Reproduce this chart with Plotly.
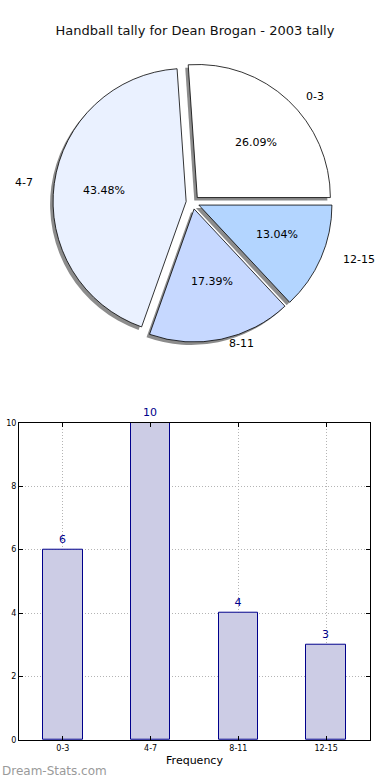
import math
import plotly.graph_objects as go

categories = ["0-3", "4-7", "8-11", "12-15"]
counts = [6, 10, 4, 3]
pie_colors = ["#FFFFFF", "#EAF1FF", "#C6D8FF", "#B3D5FF"]
title_text = "Handball tally for Dean Brogan - 2003 tally"

W, H = 390, 780
ML, MR, MT, MB = 19, 20, 0, 40
PW, PH = W - ML - MR, H - MT - MB

def px_x(p):
    return (p - ML) / PW

def px_y(p):
    return (H - MB - p) / PH

FONT = "DejaVu Sans"
pull = 0.05
total = sum(counts)
# first slice starts at 3 o'clock and runs counter-clockwise (matplotlib style)
rotation = 90 - 360 * counts[0] / total
pie_dom_y = [px_y(340), px_y(59)]
main_dom_x = [0.0, 0.99]
shadow_dom_x = [0.0, 0.973]
shadow_dom_y = [pie_dom_y[0] - 3 / PH, pie_dom_y[1] - 3 / PH]

fig = go.Figure()

# shadow
fig.add_trace(go.Pie(
    labels=categories, values=counts, sort=False, direction="counterclockwise",
    rotation=rotation, pull=pull, marker=dict(colors=["#8c8c8c"] * 4, line=dict(width=0)),
    textinfo="none", hoverinfo="skip", showlegend=False,
    domain=dict(x=shadow_dom_x, y=shadow_dom_y),
))
# main pie
fig.add_trace(go.Pie(
    labels=categories, values=counts, sort=False, direction="counterclockwise",
    rotation=rotation, pull=pull,
    marker=dict(colors=pie_colors, line=dict(color="black", width=0.8)),
    textinfo="none", hoverinfo="label+percent",
    showlegend=False, domain=dict(x=main_dom_x, y=pie_dom_y),
))

# labels (outside) and percentages (inside) placed at slice mid-angles
cx, cy = 194, 199
rx, ry = 146, 132
cum = 0
for lab, v in zip(categories, counts):
    mid = (cum + v / 2) / total * 2 * math.pi
    cum += v
    c, s = math.cos(mid), math.sin(mid)
    fig.add_annotation(x=px_x(cx + 1.1 * rx * c), y=px_y(cy - 1.1 * ry * s),
                       xref="paper", yref="paper", text=lab, showarrow=False,
                       xanchor="left" if c > 0 else "right", yanchor="middle",
                       font=dict(family=FONT, size=11, color="black"))
    fig.add_annotation(x=px_x(cx + 0.62 * rx * c), y=px_y(cy - 0.62 * ry * s),
                       xref="paper", yref="paper",
                       text=f"{100 * v / total:.2f}%", showarrow=False,
                       xanchor="center", yanchor="middle",
                       font=dict(family=FONT, size=11, color="black"))

# bar chart
fig.add_trace(go.Bar(
    x=categories, y=counts, width=0.45,
    marker=dict(color="#CCCCE5", line=dict(color="#00008B", width=1)),
    text=[str(c) for c in counts], textposition="outside", cliponaxis=False,
    textfont=dict(family=FONT, size=11, color="#00008B"),
    showlegend=False, hoverinfo="skip",
))

grid = dict(showgrid=True, gridcolor="#b4b4b4", griddash="1px,2px", gridwidth=1)
fig.update_layout(
    width=W, height=H,
    margin=dict(l=ML, r=MR, t=MT, b=MB),
    paper_bgcolor="white", plot_bgcolor="white",
    font=dict(family=FONT, color="black"),
    title=dict(text=title_text, x=0.5, xref="container", y=1 - 30 / H,
               yref="container", yanchor="middle", xanchor="center",
               font=dict(family=FONT, size=13, color="#111")),
    xaxis=dict(domain=[0, 1], range=[-0.5, 3.5], showline=True, linecolor="black",
               linewidth=1, mirror="ticks", ticks="inside", ticklen=4,
               tickcolor="black", tickfont=dict(family=FONT, size=8),
               title=dict(text="Frequency", font=dict(family=FONT, size=11), standoff=4),
               zeroline=False, fixedrange=True, **grid),
    yaxis=dict(domain=[0, px_y(421)], range=[0, 10], dtick=2, showline=True,
               linecolor="black", linewidth=1, mirror="ticks", ticks="inside",
               ticklen=4, tickcolor="black", tickfont=dict(family=FONT, size=8),
               zeroline=False, fixedrange=True, **grid),
    bargap=0,
)

# y-axis title (clipped at left edge as in the reference)
fig.add_annotation(x=px_x(-4), y=px_y(580), xref="paper", yref="paper",
                   xanchor="center", yanchor="middle",
                   text="Total Tallies", textangle=-90, showarrow=False,
                   font=dict(family=FONT, size=11, color="black"))

# watermark
fig.add_annotation(x=px_x(0), y=px_y(771), xref="paper", yref="paper",
                   xanchor="left", yanchor="middle", text="Dream-Stats.com",
                   showarrow=False, font=dict(family=FONT, size=12, color="#9a9a9a"))

fig.write_html("out.html", config={"displayModeBar": False},
               post_script="document.body.style.margin='0';document.body.style.overflow='hidden';")
